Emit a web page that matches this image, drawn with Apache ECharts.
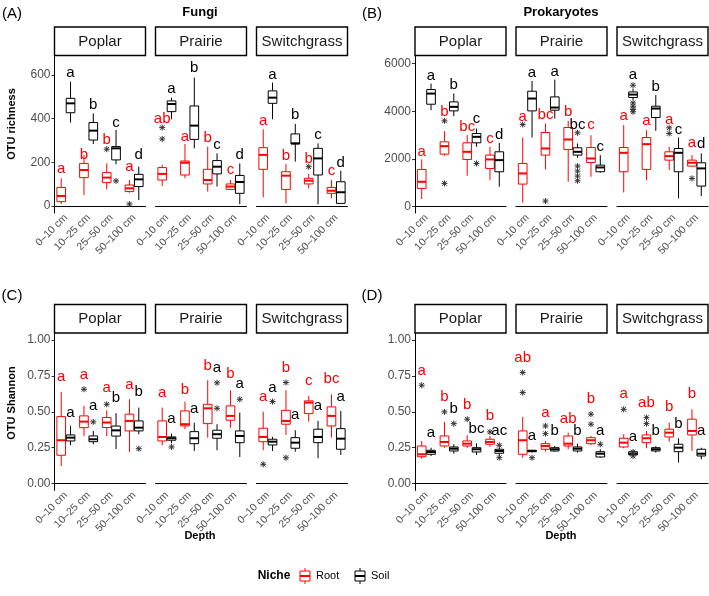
<!DOCTYPE html>
<html><head><meta charset="utf-8">
<script src="https://cdn.jsdelivr.net/npm/echarts@6/dist/echarts.min.js"></script>
<style>html,body{margin:0;padding:0;background:#fff}#c{width:709px;height:596px}</style>
</head><body><div id="c"></div>
<script>
const depths = ['0–10 cm', '10–25 cm', '25–50 cm', '50–100 cm'];
const sites = ['Poplar', 'Prairie', 'Switchgrass'];
const niches = ['Root', 'Soil'];

// Box stats per site (Poplar, Prairie, Switchgrass), per depth: [min, q1, median, q3, max]
// (A) Fungi OTU richness
const fungiRichRoot = [
  [[9,20,46,85,127],[50,130,165,195,234],[76,107,130,153,195],[61,66,81,96,119]],
  [[92,119,147,176,188],[127,142,198,206,284],[66,101,119,168,272],[73,76,89,101,119]],
  [[40,168,234,267,351],[12,76,139,157,192],[81,101,116,127,147],[35,58,70,85,119]]
];
const fungiRichSoil = [
  [[382,427,470,493,569],[284,302,345,382,424],[191,211,264,272,348],[27,89,122,145,180]],
  [[397,432,467,481,496],[264,305,368,458,588],[89,147,180,208,241],[8,58,110,140,195]],
  [[397,470,496,527,565],[203,284,287,330,376],[8,142,218,264,287],[12,12,63,111,162]]
];
const fungiRichRootOut = [[[2,260],[3,9]], [[0,359],[0,307]], [[2,180]]];
const fungiRichSoilOut = [[[2,115]], [], []];
const fungiRichRootLetters = [['a','b','b','a'], ['ab','a','b','c'], ['a','b','b','c']];
const fungiRichRootLetterY = [[168,234,302,180], [397,318,310,165], [391,229,218,162]];
const fungiRichSoilLetters = [['a','b','c','d'], ['a','b','c','d'], ['a','b','c','d']];
const fungiRichSoilLetterY = [[611,463,382,234], [534,631,279,234], [600,417,325,198]];

// (B) Prokaryote OTU richness
const prokRichRoot = [
  [[321,767,1046,1563,1981],[2135,2204,2539,2721,3167],[1298,1981,2302,2679,3000],[1116,1605,1981,2163,2512]],
  [[167,949,1395,1814,2902],[1563,2163,2442,3111,3488],[1046,2400,2818,3321,3600],[1256,1856,2023,2484,3000]],
  [[600,1465,2260,2484,3418],[1116,1563,2623,2902,3209],[1535,1953,2121,2302,2512],[1674,1702,1842,1953,2163]]
];
const prokRichSoil = [
  [[4046,4297,4744,4911,5162],[3795,4018,4186,4395,4744],[2512,2679,2930,3070,3279],[837,1465,1953,2302,2679]],
  [[2902,4018,4535,4842,5274],[3698,4046,4158,4604,5330],[2050,2163,2302,2470,2651],[1423,1465,1646,1744,2163]],
  [[4480,4577,4702,4814,4950],[3181,3740,4116,4214,4674],[349,1465,2260,2442,2902],[446,865,1605,1842,2233]]
];
const prokRichRootOut = [[[1,3600],[1,977]], [[0,3446],[1,237]], [[2,3307],[2,3070],[3,1186]]];
const prokRichSoilOut = [[[2,1814]], [[2,3098],[2,1702],[2,1493],[2,1284],[2,1088]], [[0,5093],[0,4353],[0,4214],[0,4074],[0,3977]]];
const prokRichRootLetters = [['a','b','bc','c'], ['a','bc','b','c'], ['a','a','a','a']];
const prokRichRootLetterY = [[2302,3977,3349,2860], [3767,3837,3977,3418], [3795,3600,3656,2679]];
const prokRichSoilLetters = [['a','b','c','d'], ['a','a','bc','c'], ['a','b','c','d']];
const prokRichSoilLetterY = [[5470,5093,3698,3028], [5609,5651,3446,2512], [5539,5023,3237,2651]];

// (C) Fungi OTU Shannon
const fungiShanRoot = [
  [[0.121,0.196,0.301,0.466,0.639],[0.331,0.389,0.431,0.471,0.541],[0.33,0.39,0.425,0.46,0.51],[0.219,0.366,0.436,0.483,0.587]],
  [[0.266,0.296,0.324,0.436,0.529],[0.378,0.401,0.413,0.506,0.571],[0.319,0.417,0.524,0.552,0.720],[0.389,0.441,0.471,0.541,0.650]],
  [[0.231,0.291,0.324,0.385,0.501],[0.338,0.413,0.436,0.510,0.650],[0.431,0.487,0.564,0.576,0.611],[0.319,0.401,0.471,0.534,0.622]]
];
const fungiShanSoil = [
  [[0.266,0.296,0.319,0.338,0.401],[0.273,0.291,0.308,0.331,0.366],[0.24,0.33,0.37,0.40,0.49],[0.343,0.366,0.389,0.436,0.529]],
  [[0.28,0.301,0.315,0.324,0.347],[0.226,0.277,0.315,0.361,0.424],[0.231,0.315,0.343,0.371,0.413],[0.184,0.284,0.331,0.366,0.494]],
  [[0.226,0.268,0.291,0.308,0.324],[0.221,0.245,0.284,0.319,0.371],[0.175,0.284,0.324,0.378,0.436],[0.198,0.238,0.312,0.382,0.506]]
];
const fungiShanRootOut = [[[1,0.657],[2,0.552]], [], [[0,0.133],[1,0.704],[1,0.179]]];
const fungiShanSoilOut = [[[1,0.429],[3,0.242]], [[0,0.254],[2,0.702],[2,0.524],[3,0.587]], [[0,0.571]]];
const fungiShanRootLetters = [['a','a','a','a'], ['a','b','b','b'], ['a','b','c','bc']];
const fungiShanRootLetterY = [[0.746,0.755,0.664,0.685], [0.634,0.650,0.821,0.762], [0.604,0.809,0.716,0.732]];
const fungiShanSoilLetters = [['a','a','b','b'], ['a','a','a','a'], ['a','a','a','a']];
const fungiShanSoilLetterY = [[0.494,0.541,0.599,0.639], [0.448,0.517,0.804,0.692], [0.669,0.478,0.541,0.604]];

// (D) Prokaryote OTU Shannon
const prokShanRoot = [
  [[0.172,0.186,0.203,0.261,0.296],[0.249,0.261,0.289,0.331,0.429],[0.249,0.261,0.277,0.296,0.336],[0.256,0.273,0.289,0.308,0.331]],
  [[0.179,0.203,0.301,0.366,0.464],[0.221,0.238,0.261,0.277,0.296],[0.238,0.261,0.277,0.331,0.354],[0.268,0.277,0.301,0.319,0.331]],
  [[0.245,0.254,0.284,0.315,0.343],[0.245,0.284,0.315,0.338,0.366],[0.291,0.324,0.354,0.378,0.424],[0.226,0.338,0.366,0.448,0.517]]
];
const prokShanSoil = [
  [[0.191,0.203,0.219,0.231,0.249],[0.207,0.226,0.242,0.254,0.273],[0.198,0.219,0.238,0.249,0.280],[0.19,0.210,0.226,0.238,0.25]],
  [[0.215,0.221,0.226,0.231,0.235],[0.221,0.226,0.238,0.249,0.261],[0.214,0.226,0.242,0.254,0.277],[0.179,0.184,0.207,0.221,0.238]],
  [[0.195,0.198,0.207,0.221,0.23],[0.215,0.226,0.238,0.249,0.26],[0.145,0.221,0.249,0.273,0.315],[0.168,0.191,0.207,0.238,0.249]]
];
const prokShanRootOut = [[[0,0.685],[1,0.499],[2,0.448],[3,0.359]], [[0,0.774],[0,0.634],[1,0.401],[1,0.347],[3,0.483],[3,0.413]], [[0,0.517],[1,0.459],[1,0.417]]];
const prokShanSoilOut = [[[1,0.417],[3,0.266],[3,0.179]], [[0,0.179],[3,0.273]], [[0,0.219],[0,0.191]]];
const prokShanRootLetters = [['a','b','b','b'], ['ab','a','ab','b'], ['a','ab','b','b']];
const prokShanRootLetterY = [[0.786,0.606,0.548,0.471], [0.879,0.494,0.448,0.587], [0.622,0.564,0.534,0.622]];
const prokShanSoilLetters = [['a','b','bc','ac'], ['a','b','b','a'], ['a','b','b','a']];
const prokShanSoilLetterY = [[0.354,0.517,0.378,0.366], [0.331,0.366,0.366,0.366], [0.324,0.366,0.413,0.366]];

// Axis tick values
const richFungiTicks = [0, 200, 400, 600];
const richProkTicks = [0, 2000, 4000, 6000];
const shannonTicks = [0, 0.25, 0.5, 0.75, 1];

// ---------- layout / styling ----------
const FONT = '"Liberation Sans", Arial, Helvetica, sans-serif';
const RED = '#FF0000', BLACK = '#000000', OUTC = '#333333';
const leftAC = [54.5, 155.5, 256.5], leftBD = [415, 516, 617];
const facetW = 91;

const panels = [
  { id: 'A', root: fungiRichRoot, soil: fungiRichSoil, rootOut: fungiRichRootOut, soilOut: fungiRichSoilOut,
    rl: fungiRichRootLetters, rly: fungiRichRootLetterY, sl: fungiRichSoilLetters, sly: fungiRichSoilLetterY,
    lefts: leftAC, top: 55.5, bottom: 213, min: -32, max: 689, ticks: richFungiTicks, fmt: v => String(v) },
  { id: 'B', root: prokRichRoot, soil: prokRichSoil, rootOut: prokRichRootOut, soilOut: prokRichSoilOut,
    rl: prokRichRootLetters, rly: prokRichRootLetterY, sl: prokRichSoilLetters, sly: prokRichSoilLetterY,
    lefts: leftBD, top: 55.5, bottom: 213, min: -264, max: 6340, ticks: richProkTicks, fmt: v => String(v) },
  { id: 'C', root: fungiShanRoot, soil: fungiShanSoil, rootOut: fungiShanRootOut, soilOut: fungiShanSoilOut,
    rl: fungiShanRootLetters, rly: fungiShanRootLetterY, sl: fungiShanSoilLetters, sly: fungiShanSoilLetterY,
    lefts: leftAC, top: 333, bottom: 490.5, min: -0.05, max: 1.05, ticks: shannonTicks, fmt: v => v.toFixed(2) },
  { id: 'D', root: prokShanRoot, soil: prokShanSoil, rootOut: prokShanRootOut, soilOut: prokShanSoilOut,
    rl: prokShanRootLetters, rly: prokShanRootLetterY, sl: prokShanSoilLetters, sly: prokShanSoilLetterY,
    lefts: leftBD, top: 333, bottom: 490.5, min: -0.05, max: 1.05, ticks: shannonTicks, fmt: v => v.toFixed(2) }
];

const DODGE = 0.205, HALFW = 0.19;

function makeBox(side, color, letters) {
  return function (params, api) {
    const i = api.value(0);
    const bw = api.size([1, 0])[0];
    const x = api.coord([i, 0])[0] + side * DODGE * bw;
    const hw = HALFW * bw;
    const y = k => api.coord([i, api.value(k)])[1];
    const yMin = y(1), yQ1 = y(2), yMed = y(3), yQ3 = y(4), yMax = y(5), yL = y(6);
    const ls = { stroke: color, lineWidth: 1 };
    return { type: 'group', children: [
      { type: 'line', shape: { x1: x, y1: yMax, x2: x, y2: yQ3 }, style: ls },
      { type: 'line', shape: { x1: x, y1: yQ1, x2: x, y2: yMin }, style: ls },
      { type: 'rect', shape: { x: x - hw, y: yQ3, width: 2 * hw, height: Math.max(yQ1 - yQ3, 0.5) }, style: { stroke: color, lineWidth: 1, fill: '#fff' } },
      { type: 'line', shape: { x1: x - hw, y1: yMed, x2: x + hw, y2: yMed }, style: { stroke: color, lineWidth: 2 } },
      { type: 'text', x: x, y: yL, style: { text: letters[i], fill: color, fontSize: 15, fontFamily: FONT, align: 'center', verticalAlign: 'middle' } }
    ] };
  };
}

function makeOut(side) {
  return function (params, api) {
    const i = api.value(0);
    const bw = api.size([1, 0])[0];
    const p = api.coord([i, api.value(1)]);
    const x = p[0] + side * DODGE * bw, y = p[1], r = 3, d = 2.3;
    const st = { stroke: OUTC, lineWidth: 1 };
    return { type: 'group', children: [
      { type: 'line', shape: { x1: x - r, y1: y, x2: x + r, y2: y }, style: st },
      { type: 'line', shape: { x1: x, y1: y - r, x2: x, y2: y + r }, style: st },
      { type: 'line', shape: { x1: x - d, y1: y - d, x2: x + d, y2: y + d }, style: st },
      { type: 'line', shape: { x1: x - d, y1: y + d, x2: x + d, y2: y - d }, style: st }
    ] };
  };
}

const grids = [], xAxes = [], yAxes = [], series = [], graphics = [];
let gi = 0;
panels.forEach(p => {
  sites.forEach((site, f) => {
    const left = p.lefts[f];
    grids.push({ left: left, top: p.top, width: facetW, height: p.bottom - p.top });
    xAxes.push({
      gridIndex: gi, type: 'category', data: depths,
      axisLine: { lineStyle: { color: '#000', width: 1 } },
      axisTick: { alignWithLabel: true, length: 3, lineStyle: { color: '#333' } },
      axisLabel: { rotate: 45, fontSize: 10.5, color: '#4D4D4D', margin: 3, fontFamily: FONT, interval: 0 },
      splitLine: { show: false }
    });
    yAxes.push({
      gridIndex: gi, type: 'value', min: p.min, max: p.max, show: f === 0,
      axisLine: { show: true, lineStyle: { color: '#000', width: 1 } },
      axisTick: { show: true, customValues: p.ticks, length: 3, lineStyle: { color: '#333' } },
      axisLabel: { customValues: p.ticks, formatter: p.fmt, fontSize: 12, color: '#4D4D4D', margin: 4, fontFamily: FONT },
      splitLine: { show: false }
    });
    const rootData = p.root[f].map((s, i) => [i, ...s, p.rly[f][i]]);
    const soilData = p.soil[f].map((s, i) => [i, ...s, p.sly[f][i]]);
    series.push({ type: 'custom', name: 'Root', xAxisIndex: gi, yAxisIndex: gi, data: rootData,
      encode: { x: 0, y: [1, 2, 3, 4, 5] }, renderItem: makeBox(-1, RED, p.rl[f]), silent: true, z: 3 });
    series.push({ type: 'custom', name: 'Soil', xAxisIndex: gi, yAxisIndex: gi, data: soilData,
      encode: { x: 0, y: [1, 2, 3, 4, 5] }, renderItem: makeBox(1, BLACK, p.sl[f]), silent: true, z: 3 });
    series.push({ type: 'custom', name: 'RootOut', xAxisIndex: gi, yAxisIndex: gi, data: p.rootOut[f],
      encode: { x: 0, y: 1 }, renderItem: makeOut(-1), silent: true, z: 4 });
    series.push({ type: 'custom', name: 'SoilOut', xAxisIndex: gi, yAxisIndex: gi, data: p.soilOut[f],
      encode: { x: 0, y: 1 }, renderItem: makeOut(1), silent: true, z: 4 });
    // strip
    const stripTop = p.top - 28.5;
    graphics.push({ type: 'rect', shape: { x: left, y: stripTop, width: facetW, height: 28.5 },
      style: { fill: '#fff', stroke: '#000', lineWidth: 1.4 } });
    graphics.push({ type: 'text', x: left + facetW / 2, y: stripTop + 14.5,
      style: { text: site, fill: '#1A1A1A', fontSize: 15, fontFamily: FONT, align: 'center', verticalAlign: 'middle' } });
    gi++;
  });
});

const txt = (t, x, y, size, bold, extra) => Object.assign({ type: 'text', x, y,
  style: { text: t, fill: '#000', fontSize: size, fontWeight: bold ? 'bold' : 'normal', fontFamily: FONT, align: 'center', verticalAlign: 'middle' } }, extra || {});

graphics.push(txt('(A)', 12, 14, 15, false));
graphics.push(txt('(B)', 372, 14, 15, false));
graphics.push(txt('(C)', 12, 296, 15, false));
graphics.push(txt('(D)', 372, 296, 15, false));
graphics.push(txt('Fungi', 200, 12, 13, true));
graphics.push(txt('Prokaryotes', 561, 12, 13, true));
graphics.push(txt('OTU richness', 12, 124, 11, true, { rotation: Math.PI / 2 }));
graphics.push(txt('OTU Shannon', 12, 403, 11, true, { rotation: Math.PI / 2 }));
graphics.push(txt('Depth', 200, 536, 11, true));
graphics.push(txt('Depth', 561, 536, 11, true));
// legend
graphics.push(txt('Niche', 274, 576, 12, true));
function legendKey(x, color) {
  return { type: 'group', children: [
    { type: 'line', shape: { x1: x + 6, y1: 568, x2: x + 6, y2: 571 }, style: { stroke: color, lineWidth: 1 } },
    { type: 'line', shape: { x1: x + 6, y1: 581, x2: x + 6, y2: 584 }, style: { stroke: color, lineWidth: 1 } },
    { type: 'rect', shape: { x: x + 1, y: 571, width: 10, height: 10 }, style: { fill: '#fff', stroke: color, lineWidth: 1 } },
    { type: 'line', shape: { x1: x + 1, y1: 576, x2: x + 11, y2: 576 }, style: { stroke: color, lineWidth: 2 } }
  ] };
}
graphics.push(legendKey(299, RED));
graphics.push(Object.assign(txt('Root', 316, 576, 11, false), {}));
graphics[graphics.length - 1].style.align = 'left';
graphics.push(legendKey(354, BLACK));
graphics.push(txt('Soil', 371, 576, 11, false));
graphics[graphics.length - 1].style.align = 'left';

const chart = echarts.init(document.getElementById('c'), null, { renderer: 'canvas' });
chart.setOption({
  backgroundColor: '#fff',
  animation: false,
  grid: grids, xAxis: xAxes, yAxis: yAxes, series: series,
  graphic: { elements: graphics }
});
</script></body></html>
